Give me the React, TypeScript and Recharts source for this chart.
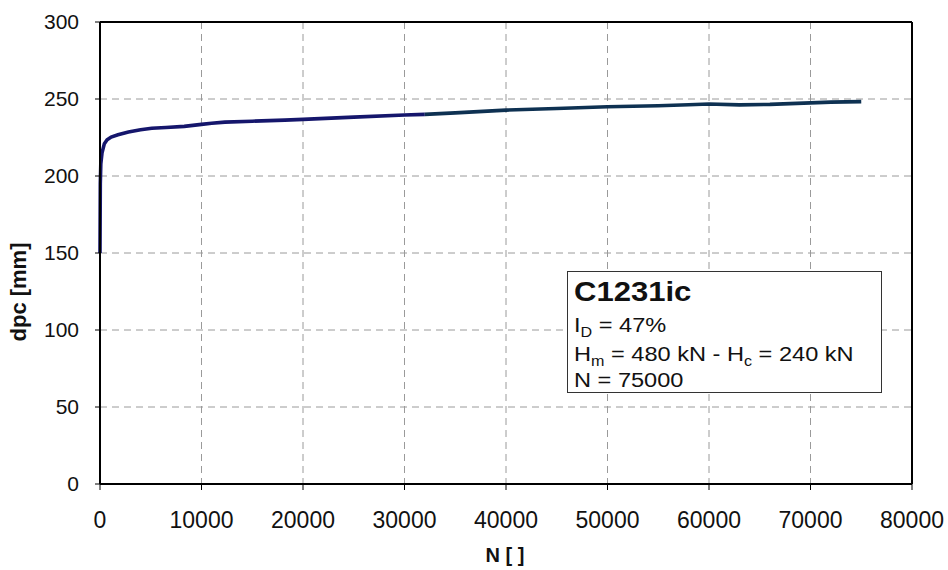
import React from 'react';
import { LineChart, Line, XAxis, YAxis, CartesianGrid, ReferenceLine } from 'recharts';

const nValues = [0, 30, 80, 200, 430, 700, 1100, 1770, 2800, 4000, 5100, 6500, 8300, 10000, 11000, 12300, 15000, 18200, 20000, 25000, 30000, 32000, 35000, 40000, 45000, 50000, 55000, 58000, 60000, 63000, 66000, 70000, 72000, 75000];
const dpcEarly = [150, 195, 208, 215, 221, 223.5, 225.3, 226.8, 228.6, 230, 231, 231.5, 232.2, 233.5, 234.2, 235, 235.6, 236.3, 236.8, 238.2, 239.6, 240, null, null, null, null, null, null, null, null, null, null, null, null];
const dpcLate = [null, null, null, null, null, null, null, null, null, null, null, null, null, null, null, null, null, null, null, null, null, 240, 241, 242.8, 243.8, 245, 245.6, 246.3, 246.8, 246.2, 246.5, 247.5, 248, 248.3];
const xTicks = [0, 10000, 20000, 30000, 40000, 50000, 60000, 70000, 80000];
const yTicks = [0, 50, 100, 150, 200, 250, 300];

const data = nValues.map((n, i) => ({ n, early: dpcEarly[i], late: dpcLate[i] }));

const FONT = '"Liberation Sans", Arial, sans-serif';
const subStyle: React.CSSProperties = { fontSize: 14, verticalAlign: -5, lineHeight: 1 };

export default function App() {
  return (
    <div style={{ position: 'absolute', left: 0, top: 0, width: 948, height: 570, background: '#fff', fontFamily: FONT }}>
      <LineChart width={948} height={570} data={data} margin={{ top: 22, right: 36, bottom: 0, left: 0 }}>
        <CartesianGrid stroke="#9a9a9a" strokeDasharray="7 5" strokeWidth={1} />
        <XAxis
          dataKey="n"
          type="number"
          domain={[0, 80000]}
          ticks={xTicks}
          height={86}
          tickSize={6}
          tickMargin={22}
          axisLine={{ stroke: '#000', strokeWidth: 2 }}
          tickLine={{ stroke: '#000', strokeWidth: 1 }}
          tick={{ fill: '#111', fontSize: 23, fontFamily: FONT }}
          interval={0}
          label={{
            content: () => (
              <text x={505} y={562} textAnchor="middle" fontFamily={FONT} fontWeight="bold" fontSize={20} fill="#111">N [ ]</text>
            ),
          }}
        />
        <YAxis
          type="number"
          domain={[0, 300]}
          ticks={yTicks}
          width={100}
          tickSize={5}
          tickMargin={16}
          axisLine={{ stroke: '#000', strokeWidth: 2 }}
          tickLine={{ stroke: '#000', strokeWidth: 1 }}
          tick={{ fill: '#111', fontSize: 21, fontFamily: FONT }}
          interval={0}
          label={{
            content: () => (
              <text x={26} y={292} transform="rotate(-90 26 292)" textAnchor="middle" fontFamily={FONT} fontWeight="bold" fontSize={22} fill="#111">dpc [mm]</text>
            ),
          }}
        />
        <ReferenceLine y={300} stroke="#000" strokeWidth={2} ifOverflow="visible" />
        <ReferenceLine x={80000} stroke="#000" strokeWidth={2} ifOverflow="visible" />
        <Line type="linear" dataKey="early" stroke="#15166c" strokeWidth={3.6} dot={false} isAnimationActive={false} connectNulls={false} />
        <Line type="linear" dataKey="late" stroke="#0e3152" strokeWidth={3.6} dot={false} isAnimationActive={false} connectNulls={false} />
      </LineChart>
      <div
        style={{
          position: 'absolute',
          left: 567,
          top: 271,
          width: 313,
          height: 120,
          border: '1px solid #333',
          background: '#fff',
          fontFamily: FONT,
          color: '#111',
          lineHeight: 1,
        }}
      >
        <div style={{ position: 'absolute', left: 6, top: 7, fontSize: 27, fontWeight: 'bold', transform: 'scaleX(1.15)', transformOrigin: 'left top', whiteSpace: 'nowrap' }}>C1231ic</div>
        <div style={{ position: 'absolute', left: 6, top: 43, fontSize: 20.5, transform: 'scaleX(1.15)', transformOrigin: 'left top', whiteSpace: 'nowrap' }}>
          I<sub style={subStyle}>D</sub> = 47%
        </div>
        <div style={{ position: 'absolute', left: 6, top: 72, fontSize: 20.5, transform: 'scaleX(1.15)', transformOrigin: 'left top', whiteSpace: 'nowrap' }}>
          H<sub style={subStyle}>m</sub> = 480 kN - H<sub style={subStyle}>c</sub> = 240 kN
        </div>
        <div style={{ position: 'absolute', left: 6, top: 98, fontSize: 20.5, transform: 'scaleX(1.15)', transformOrigin: 'left top', whiteSpace: 'nowrap' }}>N = 75000</div>
      </div>
    </div>
  );
}
